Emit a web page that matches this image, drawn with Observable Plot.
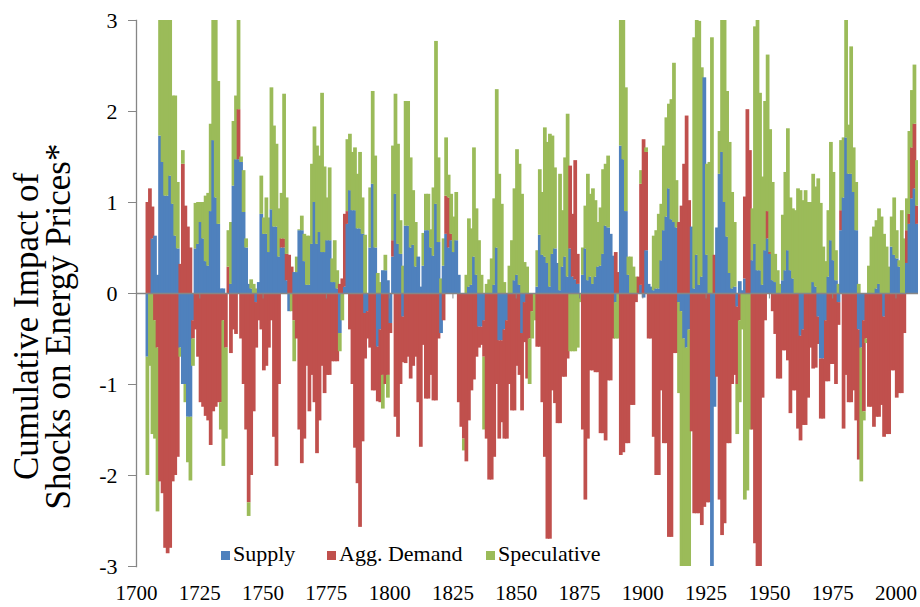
<!DOCTYPE html>
<html>
<head>
<meta charset="utf-8">
<script src="https://cdn.jsdelivr.net/npm/d3@7"></script>
<script src="https://cdn.jsdelivr.net/npm/@observablehq/plot@0.6"></script>
<style>
  html, body { margin: 0; padding: 0; background: #fff; }
  #wrap { position: relative; width: 920px; height: 607px; font-family: "Liberation Serif", "Times New Roman", serif; }
  .leg { position: absolute; top: 543px; font-size: 22px; color: #000; white-space: nowrap; line-height: 22px; }
  .leg span.sw { display: inline-block; width: 9px; height: 9px; margin-right: 3px; vertical-align: 1px; }
</style>
</head>
<body>
<div id="wrap">
  <div id="chart"></div>
</div>
<script>
// ---------- data ----------
const startYear = 1704;
const seriesNames = ["Supply", "Agg. Demand", "Speculative"];
const seriesColors = ["#4F81BD", "#C0504D", "#9BBB59"];
const yTicks = [-3, -2, -1, 0, 1, 2, 3];
const xTicks = [1700, 1725, 1750, 1775, 1800, 1825, 1850, 1875, 1900, 1925, 1950, 1975, 2000];
const yTitle = "Cumulative Impact of\nShocks on Energy Prices*";

const supply = [
 -0.7, 0, 0.6, 0.63, 0.2, 1.73, 1.44, 1.07, 1.07, 1.29,
 0.98, 0.63, 0.49, -0.6, -1.0, -1.0, -1.36, -1.36, -0.3, 0.49,
 0.54, 0.78, 0.6, 0.35, 0.3, 0.9, 1.68, 1.05, 0.76, 0.05,
 0.05, 0, 0, 0.1, 1.18, 1.47, 1.47, 1.44, 0.89, 0.5,
 0.1, 0.05, 0, -0.1, 0.12, 0.87, 0.65, 0.65, 0.45, 0.92,
 0.73, 0.73, 0.4, 0.5, 0.5, 0.14, -0.2, 0, 0.23, 0.23,
 0.69, 0.69, 0.35, 0.09, 0.09, 0.54, 1.0, 0.54, 0.67, 0.45,
 0.45, 0.58, 0.58, 0.12, 0.12, 0.05, -0.44, 0, 0.07, 0.76,
 1.13, 0.91, 0.91, 0.71, 0.71, 0.65, -0.22, -0.2, 0.5, 1.2,
 0.5, -0.59, -0.4, 0.25, 0.25, 0.14, -0.33, 0.4, 1.09, 0.54,
 0.43, -0.26, 0.74, 0.74, 0.5, 0.53, 0.29, 0.4, 0.07, 0.3,
 0.69, 0.69, 0.5, 0.41, 0.98, 0.56, -0.44, 0.3, 0.65, 0.5,
 0.58, 0.45, 0.58, 0.2, 0, 0, 0, 0.07, 0.09, 0.4,
 0.2, -0.37, -0.37, -0.3, 0, 0, 0, 0.09, 0.5, -0.52,
 -0.52, -0.4, -0.3, 0, 0, 0.14, 0.2, 0.09, -0.44, -0.1,
 0, 0, 0, 0, 0.07, 0.64, 0.42, 0.4, 0.33, 0.07,
 0.43, 0.49, 0.33, 0.03, 0.29, 0.4, 0.18, 0.49, 0.18, 0.15,
 0.1, 0, 0.2, 0.49, 0.14, 0.18, 0.1, 0.18, 0.29, 0.3,
 0.43, 0.74, 0.72, 0.65, 0.41, -0.1, 0, 1.62, 1.47, 0.9,
 0.2, 0, 0, 0, 0, 0.09, -0.05, 0.47, 0.1, 0.07,
 0.03, 0.05, 0.05, 0.36, 0.69, 0.84, 1.15, 0.81, 0.78, 0.72,
 -0.1, -0.2, -0.5, -0.6, -0.4, 0.73, 0.05, 0.42, 0.09, 0.18,
 2.37, 0.42, 0, -3.1, -1.25, 0.72, 1.31, 1.55, 1.0, 0.62,
 0.22, 0.05, 0.07, -0.15, 0.13, 0.03, 0.16, 0, 0, 0.36,
 0.54, 0.25, 0.25, 0.09, 0.47, 0.6, 0.43, 0.14, 0.12, 0,
 0, 0.14, 0.25, 0.47, 0.25, 0.16, 0, 0, -0.47, -0.4,
 0, 0, 0, 0.12, 0.07, -0.26, -0.72, -0.72, -0.3, 0.18,
 0.58, 0.36, 0.14, -0.1, 0.69, 1.05, 1.71, 1.31, 1.31, 1.11,
 0.69, -0.4, -0.6, -0.3, 0, 0, 0, 0, 0.05, 0.1,
 0, -0.26, 0, 0, 0.51, 0.42, 0.38, 0.29, 0, 0,
 0.33, 0.76, 1.04, 1.15, 0.76
];

const demand = [
 1.0, 1.15, 0.35, -0.3, -0.6, -2.07, -2.2, -2.8, -2.86, -2.8,
 -2.07, -2.0, -1.8, 0.32, 1.42, 0.96, 0.73, 0.5, -0.2, -0.4,
 -0.7, -1.2, -1.25, -1.35, -1.4, -1.67, -1.3, -1.25, -1.2, -1.2,
 -0.3, -0.6, 0.29, -0.66, -0.4, -0.45, 0.55, -0.5, -1.0, -1.5,
 -2.3, -2.0, -1.3, -0.5, -0.3, -0.4, -0.85, -0.8, -0.6, -0.3,
 -1.58, -1.9, -1.0, 0.1, 0.1, 0.29, 0.42, 0.29, -0.3, -0.5,
 -1.5, -1.87, -1.6, -0.8, -1.3, -0.9, -1.2, -1.76, -1.4, -0.8,
 -1.1, -0.9, -0.9, -0.75, -0.75, -0.75, 0.1, 0.16, 0.8, 0.14,
 -0.4, -1.0, -1.7, -2.09, -2.57, -1.63, -0.5, -0.3, -0.6, -1.07,
 -1.07, -0.6, -0.8, -0.9, -1.0, -0.9, -0.11, 0.18, -1.36, -1.58,
 -1.0, -0.5, -0.77, -0.7, -0.94, -0.8, -0.7, -1.2, -1.69, -0.57,
 -1.16, -1.16, -0.9, -1.18, -1.18, -0.5, 0, -0.3, 0.42, 0.55,
 0.07, 0, 0, -1.2, -1.47, -1.6, -1.85, -1.4, -1.07, -0.95,
 -0.7, -0.23, -0.2, -0.4, -1.6, -2.05, -2.05, -1.8, -1.0, -1.08,
 -0.9, -1.2, -1.3, -1.0, -1.29, -1.29, -0.8, -0.9, -0.85, -0.44,
 -0.94, -0.5, -0.2, 0, -0.59, -0.59, -1.2, -1.8, -2.7, -2.7,
 -1.07, -1.21, -1.43, -1.43, -0.92, -0.92, -0.72, 0.91, 0.69, 1.31,
 0.33, 0, -1.5, -2.27, -1.6, -0.85, -0.85, -0.87, -0.87, -1.54,
 -1.54, -1.62, -0.96, -0.96, -0.5, 0.45, 0.23, -1.78, -1.75, -1.65,
 -1.65, -1.23, -1.23, -0.1, 0.18, 1.11, 1.69, 1.08, -0.5, -0.5,
 -1.58, -2.0, -2.0, -1.07, -1.65, -1.65, -2.68, -2.68, -0.66, -0.66,
 0.78, 0.96, 1.42, 1.95, 1.02, -1.52, -2.42, -2.42, -2.42, -2.55,
 -2.35, -2.3, -2.3, 0, 0.42, -0.92, -2.27, -2.66, -2.53, -1.65,
 -1.65, -1.0, -0.9, -0.85, -0.3, 0, 0.9, 2.02, 1.57, -1.5,
 -2.75, -3.0, -3.0, -1.15, -0.3, 0.3, 0.02, -0.2, -0.45, -0.94,
 -0.94, -0.63, -0.63, -0.74, -1.32, -1.07, -1.07, -1.49, -1.15, -1.05,
 -1.45, -1.15, -0.6, -0.83, -0.82, -0.3, -0.66, -0.66, -0.67, -0.97,
 -0.78, -0.78, -1.0, -0.25, 0.22, -1.49, -0.9, -1.2, -1.2, -1.07,
 -1.4, -1.43, 0, -1.0, -0.5, -1.25, -1.25, -1.47, -1.36, -1.36,
 -1.23, -1.32, -1.55, -1.55, -0.85, -0.85, -1.15, -1.1, -1.1, -0.44,
 0.36, 0.11, 0.56, 0.71, 0.2
];

const speculative = [
 -1.3, -0.8, -1.55, -1.3, -1.8, 1.5, 1.7, 2.0, 2.0, 1.8,
 1.19, 1.54, 0.73, -0.1, 0.15, -0.2, -0.5, -0.7, -0.3, 0.5,
 0.46, 0.22, 0.4, 0.72, 0.8, 0.96, 1.4, 2.0, 1.57, -0.3,
 -1.6, -1.0, 0.4, 0.68, 0.71, 0.7, 1.0, 0.06, 0.46, 0.1,
 -0.15, 0.1, 0.1, 0.05, 0, 0.42, 0.18, 0.4, 0.38, 1.34,
 1.11, 0.91, 0.53, 0.5, 1.59, 0.62, 0, -0.2, -0.45, 0.17,
 0.01, 0.16, 0.3, 0.54, 0.54, 0.88, 0.83, 1.08, 0.84, 1.75,
 0.94, 0.47, 0.8, 0.26, 0.46, 0.2, -0.2, -0.3, 0, 0.79,
 0.62, 0.64, 0.69, 0.6, 0.84, 0.4, 0.64, 0, 0.66, 1.02,
 1.01, 0.22, 0.12, -0.37, 0.17, -0.25, 0, 1.04, 1.1, 1.1,
 0.37, 0.3, 1.37, 1.37, 0.99, 0.6, 0.49, 0, 0, 0.36,
 0.4, 0.4, 0.2, 0.75, 1.79, 0.93, 0.16, 0.3, 0.64, 0.25,
 0.44, 0.39, 0.53, 0, 0, -0.13, 0.2, 0.75, 0.62, 1.2,
 0.73, 0.58, 0.2, -0.8, 0.1, 0.15, 0.38, 0.95, 1.74, 1.31,
 0.98, 0.12, 0, 0.3, 0.58, 1.01, 1.38, 1.33, 1.09, 0.34,
 0.29, -0.5, -0.3, -0.3, 0.4, 0.72, 0.69, 1.42, 1.33, 1.68,
 1.3, 0.89, 0, 1.28, 0.62, 1.09, 1.79, -0.64, -0.64, -0.64,
 -0.6, -0.1, 0.3, 0.47, 1.17, 0.91, 1.05, 0.84, 0.49, 0.64,
 0.93, 0.68, 0.79, 0, 0, -0.4, -0.5, 1.5, 1.6, 1.36,
 0.2, 0.4, 0.29, 0.18, 0, 0.15, 0, 0.05, 0, 0,
 0.6, 0.64, 0.82, 0.62, 0.93, 1.09, 0.93, 1.32, 1.75, 0.52,
 -1.0, -2.8, -2.9, -2.9, -2.6, 0, 2.76, 2.6, 2.9, 2.3,
 0, 1.0, 1.44, 2.81, 0, 0, 0.47, 1.6, 2.1, 1.6,
 1.44, 1.06, 0.71, -0.55, -0.9, -0.4, -2.27, -2.17, -1.5, 0.57,
 2.39, 2.9, 1.95, 1.19, 1.64, 1.72, 1.35, 1.08, 0.31, 0.25,
 0.1, 0.72, 1.08, 1.34, 0.8, 0.77, 0.91, 1.15, 1.13, 1.02,
 1.13, 1.0, 1.0, 1.19, 1.1, 1.26, 0.99, 0.51, 0.35, 0.73,
 1.08, 0.97, 0.33, 0.1, 0.77, 0.66, 1.35, 0.54, 1.4, 0.49,
 0.53, 0.1, -1.47, -0.1, -0.05, 0.3, 0.62, 0.73, 0.75, 0.83,
 0.84, 0.65, 0.51, 0.29, 0.33, 0.63, 0.31, 0.07, 0.91, 0.6,
 0.35, 0.91, 0.63, 0.65, 0.5
];

// ---------- table for Plot ----------
const seriesValues = [supply, demand, speculative];
const rows = [];
supply.forEach((_, i) => {
  seriesNames.forEach((name, s) => {
    rows.push({ year: startYear + i, series: name, value: seriesValues[s][i] });
  });
});

const axisGray = "#868686";

const chart = Plot.plot({
  width: 920,
  height: 607,
  marginLeft: 136,
  marginRight: 2,
  marginTop: 20,
  marginBottom: 41,
  style: { fontFamily: "'Liberation Serif', 'Times New Roman', serif", background: "#fff", color: "#000" },
  x: { domain: [1700, 2008.9], axis: null },
  y: { domain: [-3, 3], axis: null },
  color: { domain: seriesNames, range: seriesColors },
  marks: [
    Plot.rectY(rows, { x: "year", interval: 1, y: "value", fill: "series", clip: true, insetLeft: -0.6, insetRight: -0.6 }),
    Plot.ruleY([0], { stroke: axisGray, strokeWidth: 1.3 }),
    Plot.ruleX(xTicks.slice(1), { y1: 0, y2: -0.06, stroke: axisGray }),
    Plot.frame({ anchor: "left", stroke: axisGray, strokeWidth: 1.3 }),
    Plot.axisY({ ticks: yTicks, tickSize: 8, tickPadding: 11, tickFormat: d => String(d), label: null, stroke: axisGray, fontSize: 22, fill: "#000" }),
    Plot.axisX({ ticks: xTicks, tickSize: 0, tickPadding: 19, tickFormat: d => String(d), label: null, fontSize: 21, fill: "#000" }),
    Plot.text([yTitle], { frameAnchor: "left", rotate: -90, dx: -93, dy: 33, textAnchor: "middle", fontSize: 35, lineHeight: 0.92, text: d => d, fill: "#000" })
  ]
});

const wrap = document.getElementById("wrap");
document.getElementById("chart").appendChild(chart);

// legend overlay (inside plot area, like the reference)
const legendLeft = [221, 327, 486];
seriesNames.forEach((name, i) => {
  const item = document.createElement("div");
  item.className = "leg";
  item.style.left = legendLeft[i] + "px";
  item.innerHTML = `<span class="sw" style="background:${seriesColors[i]}"></span>${name}`;
  wrap.appendChild(item);
});
</script>
</body>
</html>
